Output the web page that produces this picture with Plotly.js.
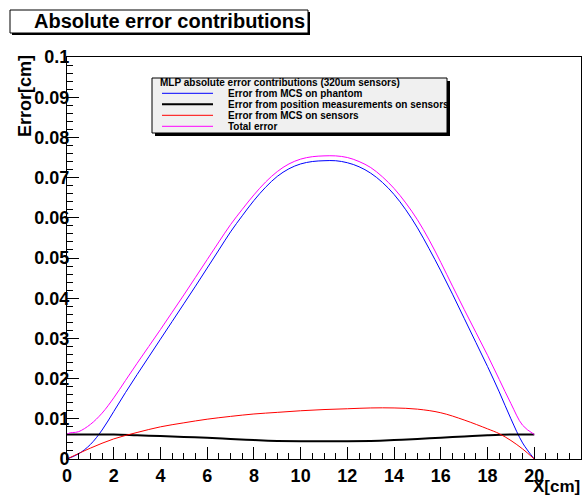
<!DOCTYPE html>
<html>
<head>
<meta charset="utf-8">
<script src="https://cdn.plot.ly/plotly-3.0.1.min.js"></script>
<style>html,body{margin:0;padding:0;background:#fff;}#chart{width:587px;height:497px;}</style>
</head>
<body>
<div id="chart"></div>
<script>
// ---- data ----
const xBlue = [0,0.5,1,1.5,2,2.5,3,3.5,4,4.5,5,5.5,6,6.5,7,7.5,8,8.5,9,9.5,10,10.5,11,11.5,12,12.5,13,13.5,14,14.5,15,15.5,16,16.5,17,17.5,18,18.5,19,19.5,20];
const yBlue = [0,0.0013,0.0036,0.0072,0.0118,0.0165,0.0210,0.0254,0.0298,0.0342,0.0386,0.0430,0.0475,0.0520,0.0565,0.0605,0.0643,0.0676,0.0703,0.0722,0.0734,0.0740,0.0742,0.0742,0.0737,0.0727,0.0711,0.0688,0.0658,0.0620,0.0575,0.0523,0.0468,0.0410,0.0350,0.0290,0.0230,0.0167,0.0100,0.0040,0];

const xBlack = [0,1,2,3,4,5,6,7,8,9,10,11,12,13,14,15,16,17,18,19,20];
const yBlack = [0.0061,0.0061,0.0061,0.0059,0.0057,0.0055,0.0053,0.0050,0.0047,0.0045,0.0044,0.0044,0.0044,0.0045,0.0047,0.0050,0.0053,0.0056,0.0059,0.0061,0.0061];

const xRed = [0,1,2,3,4,5,6,7,8,9,10,11,12,13,14,15,16,17,18,18.5,19,19.5,20];
const yRed = [0,0.0027,0.0050,0.0066,0.0080,0.0090,0.0099,0.0106,0.0112,0.0116,0.0120,0.0123,0.0125,0.0127,0.0127,0.0124,0.0115,0.0097,0.0075,0.0063,0.0046,0.0025,0];

const xTotal = [0,0,0.5,1,1.5,2,2.5,3,3.5,4,4.5,5,5.5,6,6.5,7,7.5,8,8.5,9,9.5,10,10.5,11,11.5,12,12.5,13,13.5,14,14.5,15,15.5,16,16.5,17,17.5,18,18.5,19,19.5,20];
const yTotal = [0,0.0061,0.0068,0.0086,0.0114,0.0152,0.0195,0.0238,0.0280,0.0322,0.0365,0.0408,0.0452,0.0496,0.0540,0.0583,0.0621,0.0657,0.0689,0.0715,0.0734,0.0746,0.0752,0.0754,0.0754,0.0750,0.0740,0.0725,0.0702,0.0673,0.0637,0.0595,0.0545,0.0489,0.0430,0.0372,0.0315,0.0258,0.0198,0.0138,0.0084,0.0061];

const seriesNames = ["Error from MCS on phantom","Error from position measurements on sensors","Error from MCS on sensors","Total error"];
const seriesColors = ["#0000ff","#000000","#ff0000","#ff00ff"];
const seriesWidths = [1,2,1,1];
const legendHeader = "MLP absolute error contributions (320um sensors)";
const chartTitle = "Absolute error contributions";
const xTitle = "X[cm]";
const yTitle = "Error[cm]";

// ---- layout helpers (pixel -> paper) ----
const L = 67, R = 581, T = 57, B = 459;
const px = x => (x - L) / (R - L);
const py = y => (B - y) / (B - T);
const FONT = "Liberation Sans, Arial, Helvetica, sans-serif";

const xs = [xBlue, xBlack, xRed, xTotal];
const ys = [yBlue, yBlack, yRed, yTotal];
const traces = xs.map((x, i) => ({
  x: x, y: ys[i], type: "scatter", mode: "lines", name: seriesNames[i],
  line: {color: seriesColors[i], width: seriesWidths[i], shape: "spline", smoothing: 1},
  showlegend: false, hoverinfo: "skip"
}));

const shapes = [];
const annotations = [];

// Title box with shadow
shapes.push({type:"rect", xref:"paper", yref:"paper", x0:px(12), x1:px(310), y0:py(12), y1:py(35), fillcolor:"#000", line:{width:0}});
shapes.push({type:"rect", xref:"paper", yref:"paper", x0:px(10), x1:px(308), y0:py(10), y1:py(33), fillcolor:"#fff", line:{color:"#000", width:1}});
annotations.push({xref:"paper", yref:"paper", x:px(169), y:py(21.5), xanchor:"center", yanchor:"middle", showarrow:false,
  text:chartTitle, font:{family:FONT, size:20, color:"#000", weight:700}});

// Legend box with shadow
shapes.push({type:"rect", xref:"paper", yref:"paper", x0:px(155), x1:px(450), y0:py(81), y1:py(136), fillcolor:"#000", line:{width:0}});
shapes.push({type:"rect", xref:"paper", yref:"paper", x0:px(152), x1:px(447), y0:py(78), y1:py(133), fillcolor:"#f0f0f0", line:{color:"#000", width:1}});
annotations.push({xref:"paper", yref:"paper", x:px(158), y:py(82), xanchor:"left", yanchor:"middle", showarrow:false,
  text:legendHeader, font:{family:FONT, size:10, color:"#000", weight:700}});
const rowY = [93.3, 104.3, 115.3, 126.3];
seriesNames.forEach((n, i) => {
  shapes.push({type:"line", xref:"paper", yref:"paper", x0:px(162), x1:px(213), y0:py(rowY[i]), y1:py(rowY[i]),
    line:{color:seriesColors[i], width:seriesWidths[i]}});
  annotations.push({xref:"paper", yref:"paper", x:px(226), y:py(rowY[i]), xanchor:"left", yanchor:"middle", showarrow:false,
    text:n, font:{family:FONT, size:10, color:"#000", weight:700}});
});

// Axis titles
annotations.push({xref:"paper", yref:"paper", x:px(581), y:py(486), xanchor:"right", yanchor:"middle", showarrow:false, borderpad:0,
  text:xTitle, font:{family:FONT, size:17, color:"#000", weight:700}});
annotations.push({xref:"paper", yref:"paper", x:px(25), y:py(96), xanchor:"center", yanchor:"middle", showarrow:false, textangle:-90, borderpad:0,
  text:yTitle, font:{family:FONT, size:18, color:"#000", weight:700}});

const layout = {
  width: 587, height: 497,
  margin: {l: L, r: 587 - R, t: T, b: 497 - B, pad: 0},
  paper_bgcolor: "#fff", plot_bgcolor: "#fff",
  showlegend: false,
  xaxis: {
    range: [0, 22], tick0: 0, dtick: 2, ticks: "inside", ticklen: 12, tickwidth: 1, tickcolor: "#000",
    showline: true, linecolor: "#000", linewidth: 1, mirror: true, showgrid: false, zeroline: false,
    tickfont: {family: FONT, size: 18, color: "#000", weight: 700},
    minor: {dtick: 0.5, ticks: "inside", ticklen: 6, tickcolor: "#000", showgrid: false}
  },
  yaxis: {
    range: [0, 0.1], tick0: 0, dtick: 0.01, ticks: "inside", ticklen: 12, tickwidth: 1, tickcolor: "#000",
    showline: true, linecolor: "#000", linewidth: 1, mirror: true, showgrid: false, zeroline: false,
    ticklabelstandoff: -7,
    tickfont: {family: FONT, size: 18, color: "#000", weight: 700},
    minor: {dtick: 0.002, ticks: "inside", ticklen: 6, tickcolor: "#000", showgrid: false}
  },
  shapes: shapes,
  annotations: annotations
};

Plotly.newPlot("chart", traces, layout, {staticPlot: true, displayModeBar: false});
</script>
</body>
</html>
